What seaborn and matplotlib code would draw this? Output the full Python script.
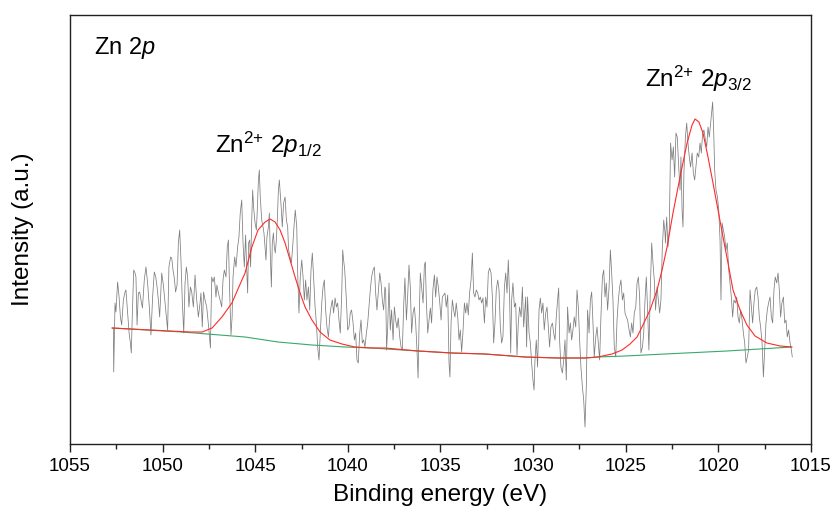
import numpy as np
import pandas as pd
import matplotlib
matplotlib.use("Agg")
import matplotlib.pyplot as plt
import seaborn as sns

# ---------------- data ----------------
raw_energy = [
    1052.66, 1052.64, 1052.57, 1052.52, 1052.43, 1052.35, 1052.28, 1052.21, 1052.12, 1052.03,
    1051.98, 1051.90, 1051.81, 1051.74, 1051.69, 1051.64, 1051.56, 1051.49, 1051.44, 1051.38,
    1051.31, 1051.24, 1051.17, 1051.09, 1050.99, 1050.90, 1050.81, 1050.72, 1050.63, 1050.54,
    1050.45, 1050.37, 1050.30, 1050.23, 1050.16, 1050.05, 1049.96, 1049.87, 1049.80, 1049.73,
    1049.66, 1049.57, 1049.51, 1049.44, 1049.37, 1049.30, 1049.22, 1049.15, 1049.08, 1049.01,
    1048.94, 1048.86, 1048.79, 1048.72, 1048.65, 1048.58, 1048.50, 1048.43, 1048.34, 1048.25,
    1048.16, 1048.07, 1047.98, 1047.93, 1047.86, 1047.79, 1047.71, 1047.62, 1047.50, 1047.42,
    1047.35, 1047.28, 1047.21, 1047.12, 1047.07, 1046.99, 1046.90, 1046.81, 1046.74, 1046.67,
    1046.58, 1046.51, 1046.45, 1046.38, 1046.31, 1046.25, 1046.20, 1046.11, 1046.04, 1045.95,
    1045.88, 1045.81, 1045.73, 1045.66, 1045.59,
    1045.52, 1045.46, 1045.41, 1045.36, 1045.30, 1045.25, 1045.19, 1045.14, 1045.09, 1045.01,
    1044.94, 1044.89, 1044.83, 1044.78, 1044.73, 1044.65, 1044.58, 1044.53, 1044.47, 1044.42,
    1044.37, 1044.29, 1044.24, 1044.19, 1044.13, 1044.08, 1044.02, 1043.97, 1043.92, 1043.86,
    1043.81, 1043.75, 1043.70, 1043.65, 1043.59, 1043.54, 1043.47, 1043.39, 1043.32, 1043.25,
    1043.20, 1043.12, 1043.05, 1042.98, 1042.91, 1042.84, 1042.76, 1042.71, 1042.64, 1042.57,
    1042.49, 1042.42, 1042.35, 1042.28, 1042.21, 1042.13, 1042.06, 1041.99, 1041.92, 1041.85,
    1041.77, 1041.70, 1041.63, 1041.56, 1041.49, 1041.41, 1041.34, 1041.27, 1041.20, 1041.13,
    1041.05, 1040.98, 1040.91, 1040.84, 1040.77, 1040.69, 1040.62, 1040.55, 1040.48, 1040.41,
    1040.33, 1040.28, 1040.23, 1040.17, 1040.08, 1040.01, 1039.94, 1039.87, 1039.80, 1039.72,
    1039.65, 1039.58, 1039.51, 1039.44, 1039.36, 1039.29, 1039.22, 1039.15, 1039.08, 1039.00,
    1038.93, 1038.86, 1038.79, 1038.72, 1038.64, 1038.57, 1038.50, 1038.43, 1038.36, 1038.28,
    1038.21, 1038.14, 1038.07, 1038.00,
    1037.96, 1037.91, 1037.85, 1037.78, 1037.71, 1037.64, 1037.56, 1037.49, 1037.42, 1037.35,
    1037.28, 1037.20, 1037.13, 1037.06, 1036.99, 1036.92, 1036.84, 1036.77, 1036.70, 1036.63,
    1036.56, 1036.48, 1036.41, 1036.34, 1036.27, 1036.21, 1036.16, 1036.09, 1036.02, 1035.94,
    1035.87, 1035.82, 1035.76, 1035.69, 1035.62, 1035.55, 1035.48, 1035.41, 1035.33, 1035.26,
    1035.19, 1035.12, 1035.05, 1034.97, 1034.90, 1034.83, 1034.76, 1034.69, 1034.61, 1034.54,
    1034.49, 1034.43, 1034.36, 1034.29, 1034.22, 1034.15, 1034.07, 1034.00, 1033.93, 1033.86,
    1033.79, 1033.71, 1033.64, 1033.57, 1033.50, 1033.43, 1033.35, 1033.28, 1033.21, 1033.14,
    1033.07, 1032.99, 1032.92, 1032.85, 1032.78, 1032.71, 1032.63, 1032.56, 1032.49, 1032.42,
    1032.35, 1032.27, 1032.20, 1032.13, 1032.06, 1031.99, 1031.91, 1031.84, 1031.77, 1031.70,
    1031.63, 1031.55, 1031.48, 1031.41, 1031.34, 1031.27, 1031.21, 1031.16, 1031.09, 1031.01,
    1030.94, 1030.87, 1030.80, 1030.73, 1030.65, 1030.58, 1030.51, 1030.44,
    1030.40, 1030.35, 1030.30, 1030.22, 1030.15, 1030.08, 1030.01, 1029.95, 1029.90, 1029.83,
    1029.76, 1029.68, 1029.61, 1029.54, 1029.47, 1029.40, 1029.32, 1029.25, 1029.18, 1029.11,
    1029.04, 1028.96, 1028.89, 1028.82, 1028.75, 1028.68, 1028.62, 1028.57, 1028.50, 1028.42,
    1028.35, 1028.28, 1028.21, 1028.14, 1028.06, 1027.99, 1027.92, 1027.85, 1027.78, 1027.70,
    1027.63, 1027.56, 1027.49, 1027.42, 1027.34, 1027.27, 1027.20, 1027.13, 1027.06, 1026.98,
    1026.91, 1026.84, 1026.77, 1026.70, 1026.62, 1026.55, 1026.48, 1026.41, 1026.34, 1026.26,
    1026.19, 1026.12, 1026.05, 1025.98, 1025.90, 1025.83, 1025.76, 1025.69, 1025.62, 1025.54,
    1025.47, 1025.40, 1025.33, 1025.26, 1025.18, 1025.11, 1025.04, 1024.97, 1024.90, 1024.82,
    1024.75, 1024.68, 1024.61, 1024.54, 1024.46, 1024.39, 1024.32, 1024.25, 1024.18, 1024.10,
    1024.03, 1023.96, 1023.89, 1023.82, 1023.75, 1023.67, 1023.60, 1023.53, 1023.46, 1023.39,
    1023.31, 1023.24, 1023.17, 1023.10, 1023.03, 1022.95, 1022.88,
    1022.86, 1022.79, 1022.72, 1022.65, 1022.58, 1022.50, 1022.43, 1022.36, 1022.29, 1022.22,
    1022.14, 1022.07, 1022.02, 1021.96, 1021.91, 1021.86, 1021.78, 1021.71, 1021.64, 1021.57,
    1021.50, 1021.42, 1021.35, 1021.28, 1021.21, 1021.14, 1021.06, 1020.99, 1020.92, 1020.85,
    1020.78, 1020.70, 1020.63, 1020.56, 1020.49, 1020.42, 1020.36, 1020.31, 1020.25, 1020.20,
    1020.13, 1020.05, 1019.98, 1019.91, 1019.86, 1019.80, 1019.73, 1019.66, 1019.59, 1019.52,
    1019.44, 1019.37, 1019.30, 1019.23, 1019.16, 1019.08, 1019.01, 1018.94, 1018.87, 1018.80,
    1018.72, 1018.65, 1018.58, 1018.51, 1018.44, 1018.37, 1018.29, 1018.22, 1018.15, 1018.08,
    1018.01, 1017.93, 1017.86, 1017.79, 1017.72, 1017.64, 1017.57, 1017.50, 1017.43, 1017.36,
    1017.29, 1017.21, 1017.14, 1017.07, 1017.00, 1016.93, 1016.85, 1016.78, 1016.71, 1016.64,
    1016.57, 1016.49, 1016.42, 1016.35, 1016.28, 1016.21, 1016.13, 1016.06, 1016.01,
]
raw_intensity = [
    116, 72, 141, 132, 162, 147, 127, 119, 144, 152,
    154, 134, 111, 101, 91, 127, 174, 171, 167, 119,
    151, 152, 144, 136, 164, 177, 161, 137, 109, 147,
    172, 167, 157, 144, 127, 171, 159, 141, 126, 114,
    177, 187, 186, 174, 166, 152, 159, 201, 214, 184,
    144, 111, 161, 177, 167, 137, 157, 152, 137, 169,
    144, 127, 141, 151, 117, 152, 144, 137, 114, 96,
    167, 162, 167, 147, 159, 151, 144, 137, 164, 174,
    167, 197, 204, 151, 109, 127, 167, 187, 177, 197,
    207, 231, 244, 201, 177,
    209, 174, 151, 201, 204, 177, 224, 254, 237, 221,
    214, 234, 264, 274, 247, 224, 217, 211, 197, 184,
    207, 217, 231, 191, 157, 201, 211, 197, 191, 204,
    224, 254, 264, 251, 234, 217, 241, 247, 224, 217,
    194, 187, 181, 197, 217, 234, 217, 171, 131, 167,
    184, 167, 144, 164, 144, 157, 134, 174, 191, 167,
    137, 121, 97, 84, 111, 141, 157, 164, 134, 117,
    107, 127, 137, 144, 131, 146, 137, 141, 124, 111,
    151, 194, 184, 174, 144, 114, 117, 131, 134, 121,
    104, 111, 84, 81, 111, 124, 101, 104, 97, 111,
    121, 137, 154, 167, 174, 177, 151, 134, 151, 171,
    161, 144, 134, 157,
    154, 94, 117, 161, 114, 134, 104, 137, 124, 116,
    126, 107, 97, 94, 137, 166, 124, 149, 179, 157,
    111, 131, 137, 121, 94, 66, 117, 171, 157, 141,
    179, 182, 141, 111, 124, 136, 121, 154, 169, 147,
    167, 157, 144, 124, 147, 149, 151, 137, 149, 81,
    67, 121, 144, 134, 127, 141, 127, 104, 114, 92,
    111, 141, 131, 141, 129, 151, 164, 191, 151, 147,
    154, 151, 144, 147, 141, 146, 121, 147, 137, 171,
    176, 171, 147, 101, 121, 154, 164, 154, 117, 101,
    107, 157, 171, 151, 184, 147, 91, 144, 161, 137,
    141, 89, 121, 137, 127, 157, 117, 137,
    147, 97, 147, 111, 101, 81, 64, 54, 84, 104,
    77, 134, 146, 131, 141, 114, 131, 137, 117, 97,
    117, 121, 111, 104, 127, 144, 156, 104, 77, 71,
    84, 104, 64, 137, 111, 121, 104, 114, 127, 117,
    154, 137, 104, 77, 57, 44, 17, 57, 134, 111,
    144, 152, 121, 87, 107, 117, 101, 84, 127, 167,
    174, 147, 161, 134, 157, 194, 171, 144, 97, 87,
    124, 144, 157, 164, 144, 151, 131, 127, 124, 114,
    107, 121, 111, 131, 137, 161, 167, 147, 91, 97,
    111, 144, 167, 134, 94, 157, 201, 181, 164, 134,
    157, 144, 131, 144, 194, 224, 211,
    201, 227, 197, 214, 301, 284, 297, 267, 311, 307,
    277, 254, 287, 234, 217, 271, 307, 321, 301, 287,
    277, 291, 271, 264, 277, 291, 287, 301, 291, 311,
    314, 304, 297, 317, 307, 321, 334, 342, 311, 274,
    254, 247, 234, 204, 144, 221, 214, 207, 194, 201,
    174, 161, 147, 127, 144, 141, 147, 127, 121, 134,
    124, 111, 101, 81, 87, 94, 154, 137, 121, 141,
    154, 157, 147, 127, 117, 101, 67, 94, 121, 134,
    141, 147, 127, 121, 154, 167, 161, 171, 154, 127,
    141, 147, 121, 124, 107, 114, 101, 94, 87,
]

fit_energy = [
    1052.73, 1050.68, 1048.52, 1047.87, 1047.33, 1046.80, 1046.26, 1045.72, 1045.55, 1045.18,
    1044.85, 1044.47, 1044.20, 1043.93, 1043.66, 1043.39, 1043.12, 1042.85, 1042.58, 1042.31,
    1041.94, 1041.50, 1040.97, 1040.32, 1039.62, 1038.70, 1038.00, 1036.21, 1034.38, 1032.60,
    1030.44, 1028.66, 1027.20, 1026.50, 1025.74, 1025.20, 1024.77, 1024.39, 1024.07, 1023.69,
    1023.31, 1023.04, 1022.77, 1022.45, 1022.07, 1021.69, 1021.42, 1021.26, 1021.05, 1020.83,
    1020.56, 1020.29, 1020.02, 1019.75, 1019.48, 1019.21, 1018.83, 1018.46, 1018.02, 1017.38,
    1016.67, 1016.03,
]
fit_intensity = [
    116, 114, 112, 112, 116, 127, 141, 164, 171, 197,
    214, 222, 225, 222, 214, 201, 184, 167, 151, 137,
    124, 112, 104, 100, 97, 96, 96, 93, 91, 90,
    87, 86, 86, 87, 90, 94, 100, 107, 119, 134,
    154, 174, 197, 231, 267, 301, 319, 325, 322, 311,
    287, 261, 234, 207, 181, 154, 134, 119, 108, 101,
    98, 97,
]

bg_energy = [
    1052.73, 1048.95, 1045.55, 1043.77, 1041.94, 1040.16, 1038.70, 1036.21, 1034.38, 1032.60,
    1030.44, 1028.66, 1027.20, 1026.50, 1025.04, 1022.88, 1019.53, 1016.03,
]
bg_intensity = [
    116, 112, 107, 102, 99, 97, 96, 93, 91, 90,
    87, 86, 86, 87, 88, 90, 93, 97,
]

x_ticks = [1055, 1050, 1045, 1040, 1035, 1030, 1025, 1020, 1015]

raw_df = pd.DataFrame({"Binding energy": raw_energy, "Intensity": raw_intensity})
fit_df = pd.DataFrame({"Binding energy": fit_energy, "Intensity": fit_intensity})
bg_df = pd.DataFrame({"Binding energy": bg_energy, "Intensity": bg_intensity})

# ---------------- style ----------------
sns.set_style("ticks")
plt.rcParams["font.family"] = ["Liberation Sans", "DejaVu Sans"]
plt.rcParams["mathtext.fontset"] = "custom"
plt.rcParams["mathtext.rm"] = "Liberation Sans"
plt.rcParams["mathtext.it"] = "Liberation Sans:italic"
plt.rcParams["mathtext.bf"] = "Liberation Sans:bold"
plt.rcParams["text.color"] = "black"
plt.rcParams["axes.labelcolor"] = "black"
plt.rcParams["xtick.color"] = "black"
plt.rcParams["ytick.color"] = "black"

fig = plt.figure(figsize=(8.37, 5.22), dpi=100)
ax = fig.add_axes([70 / 837, 1 - 444 / 522, (811 - 70) / 837, (444 - 15) / 522])

sns.lineplot(data=raw_df, x="Binding energy", y="Intensity", ax=ax, color="#7d7d7d",
             linewidth=0.55, estimator=None, sort=False)
sns.lineplot(data=bg_df, x="Binding energy", y="Intensity", ax=ax, color="#3aa86a",
             linewidth=0.8, estimator=None, sort=False)
sns.lineplot(data=fit_df, x="Binding energy", y="Intensity", ax=ax, color="#ff2a2a",
             linewidth=0.8, estimator=None, sort=False)

ax.set_xlim(1055, 1015)
ax.set_ylim(0, 429)
ax.set_xticks(x_ticks)
ax.set_xticklabels([str(t) for t in x_ticks])
ax.xaxis.set_minor_locator(matplotlib.ticker.MultipleLocator(2.5))
ax.tick_params(axis="x", which="major", direction="out", length=6, width=1,
               labelsize=13.5, pad=4, colors="#222222", labelcolor="black")
ax.tick_params(axis="x", which="minor", direction="out", length=3.5, width=1,
               colors="#222222")
ax.tick_params(axis="x", top=False, which="both")
ax.set_yticks([])
for s in ax.spines.values():
    s.set_visible(True)
    s.set_linewidth(1.0)
    s.set_color("#222222")

ax.set_xlabel("Binding energy (eV)", fontsize=17.5, color="black")
ax.xaxis.set_label_coords(0.5, -(484 - 444) / 429)
ax.set_ylabel("Intensity (a.u.)", fontsize=17.5, color="black")
ax.yaxis.set_label_coords(-(70 - 34) / 741, 0.5)

ax.text(0.032, 0.909, r"Zn 2$\it{p}$", transform=ax.transAxes, fontsize=17,
        ha="left", va="baseline", color="black")
ax.text(0.196, 0.678, r"Zn$^{2{+}}$ 2$\it{p}_{1/2}$", transform=ax.transAxes,
        fontsize=17.5, ha="left", va="baseline", color="black")
ax.text(0.776, 0.832, r"Zn$^{2{+}}$ 2$\it{p}_{3/2}$", transform=ax.transAxes,
        fontsize=17.5, ha="left", va="baseline", color="black")

fig.savefig("out.png", dpi=100)
